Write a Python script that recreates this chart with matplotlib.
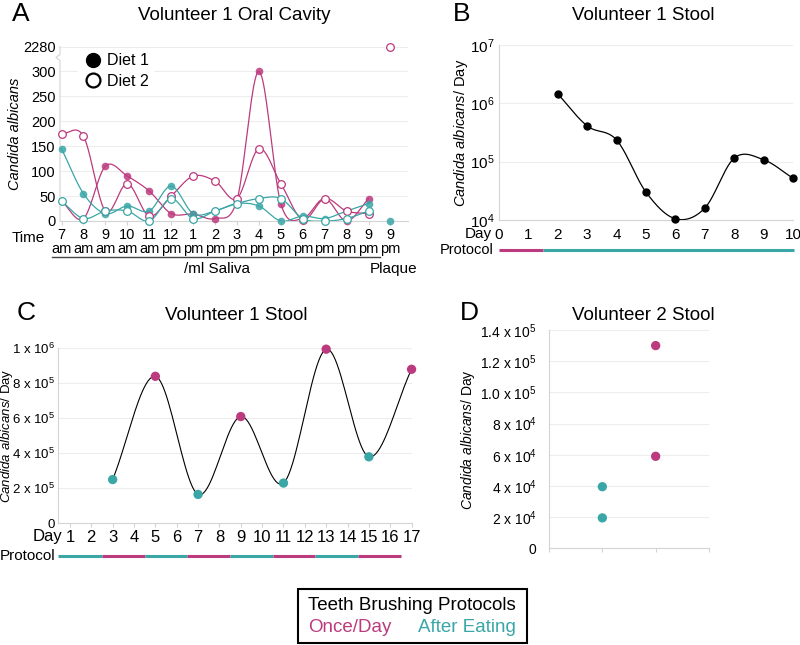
import numpy as np
import matplotlib.pyplot as plt
from matplotlib.lines import Line2D
from matplotlib.patches import Rectangle
import matplotlib.transforms as mtrans

plt.rcParams['font.family'] = ['Liberation Sans', 'DejaVu Sans']
plt.rcParams['mathtext.fontset'] = 'custom'
plt.rcParams['mathtext.rm'] = 'Liberation Sans'
plt.rcParams['mathtext.it'] = 'Liberation Sans:italic'
plt.rcParams['mathtext.bf'] = 'Liberation Sans:bold'

MAG = '#BC3A7E'
TEAL = '#3AA6A6'
GRID = '#EDEDED'
SPINE = '#D4D4D4'
nan = np.nan

# ---- panel A: oral cavity, per ml saliva (last point = plaque)
times = ['7\nam', '8\nam', '9\nam', '10\nam', '11\nam', '12\npm', '1\npm', '2\npm',
         '3\npm', '4\npm', '5\npm', '6\npm', '7\npm', '8\npm', '9\npm', '9\npm']
once_diet1 = [40, 5, 110, 90, 60, 15, 14, 5, 42, 300, 35, 5, 45, 0, 45, nan]
once_diet2 = [175, 170, 20, 75, 10, 50, 90, 80, 45, 145, 75, 3, 45, 20, 15, 2280]
after_diet1 = [145, 55, 15, 30, 20, 70, 15, 20, 35, 30, 0, 10, 5, 20, 35, 0]
after_diet2 = [40, 5, 20, 20, 0, 45, 5, 20, 35, 45, 45, 5, 0, 5, 20, nan]
a_yticks = [0, 50, 100, 150, 200, 250, 300, 350]
a_ylabels = ['0', '50', '100', '150', '200', '250', '300', '2280']

# ---- panel B: volunteer 1 stool, log scale
b_days = [2, 3, 4, 5, 6, 7, 8, 9, 10]
b_counts = [1.45e6, 4.1e5, 2.35e5, 3.0e4, 1.05e4, 1.6e4, 1.15e5, 1.08e5, 5.2e4]
b_protocol = [(0, 1.5, MAG), (1.5, 10.05, TEAL)]

# ---- panel C: volunteer 1 stool, linear
c_days = [3, 5, 7, 9, 11, 13, 15, 17]
c_counts = [2.5e5, 8.4e5, 1.65e5, 6.1e5, 2.3e5, 9.95e5, 3.8e5, 8.8e5]
c_colors = [TEAL, MAG, TEAL, MAG, TEAL, MAG, TEAL, MAG]
c_protocol = [(0.45, 2.5, TEAL), (2.5, 4.5, MAG), (4.5, 6.5, TEAL), (6.5, 8.5, MAG),
              (8.5, 10.5, TEAL), (10.5, 12.5, MAG), (12.5, 14.5, TEAL), (14.5, 16.5, MAG)]
c_yticks = [0, 2e5, 4e5, 6e5, 8e5, 1e6]
c_ylabels = ['0', r'2 x 10$^{5}$', r'4 x 10$^{5}$', r'6 x 10$^{5}$', r'8 x 10$^{5}$',
             r'1 x 10$^{6}$']

# ---- panel D: volunteer 2 stool
d_x = [1, 1, 2, 2]
d_counts = [3.95e4, 1.95e4, 1.3e5, 5.9e4]
d_colors = [TEAL, TEAL, MAG, MAG]
d_yticks = [0, 2e4, 4e4, 6e4, 8e4, 1e5, 1.2e5, 1.4e5]
d_ylabels = ['0', r'2 x 10$^{4}$', r'4 x 10$^{4}$', r'6 x 10$^{4}$', r'8 x 10$^{4}$',
             r'1.0 x 10$^{5}$', r'1.2 x 10$^{5}$', r'1.4 x 10$^{5}$']

W, H = 800, 645
fig = plt.figure(figsize=(8, 6.45), dpi=100)


def px_axes(l, t, r, b):
    return fig.add_axes([l / W, 1 - b / H, (r - l) / W, (b - t) / H])


def ftext(x, y, s, **kw):
    fig.text(x / W, 1 - y / H, s, **kw)


def smooth(x, y, n=24):
    # catmull-rom curve through the points, for drawing only
    p = np.column_stack([x, y]).astype(float)
    p = np.vstack([2 * p[0] - p[1], p, 2 * p[-1] - p[-2]])
    t = np.linspace(0, 1, n)[:, None]
    out = []
    for i in range(1, len(p) - 2):
        p0, p1, p2, p3 = p[i - 1], p[i], p[i + 1], p[i + 2]
        seg = 0.5 * (2 * p1 + (-p0 + p2) * t + (2 * p0 - 5 * p1 + 4 * p2 - p3) * t ** 2
                     + (-p0 + 3 * p1 - 3 * p2 + p3) * t ** 3)
        out.append(seg)
    out = np.vstack(out)
    return out[:, 0], out[:, 1]


def style(ax, xsize=11, ysize=10.5):
    for s in ['top', 'right']:
        ax.spines[s].set_visible(False)
    for s in ['left', 'bottom']:
        ax.spines[s].set_color(SPINE)
        ax.spines[s].set_linewidth(0.8)
    ax.grid(axis='y', color=GRID, lw=0.8)
    ax.set_axisbelow(True)
    ax.tick_params(axis='y', length=0, pad=3, labelsize=ysize)
    ax.tick_params(axis='x', length=3, color=SPINE, labelsize=xsize)


# ================= A
axA = px_axes(60, 46.5, 408, 221)
style(axA, 10.5, 10.5)
axA.spines['left'].set_visible(False)
xs = np.arange(len(times))


def disp(v):
    v = np.asarray(v, float)
    return np.where(v > 300, 350, v)


series = [(once_diet1, MAG, True), (once_diet2, MAG, False),
          (after_diet1, TEAL, True), (after_diet2, TEAL, False)]
for vals, col, filled in series:
    v = disp(vals)
    sx, sy = smooth(xs[:15], v[:15])
    axA.plot(sx, sy, color=col, lw=0.9, zorder=2, clip_on=False)
for vals, col, filled in series:
    v = disp(vals)
    if filled:
        axA.plot(xs, v, 'o', ms=5.5, color=col, alpha=0.85, zorder=3, clip_on=False, mec='none')
    else:
        axA.plot(xs, v, 'o', ms=5.5, mfc='white', mec=col, mew=0.9, zorder=4, clip_on=False)

axA.set_xlim(-0.07, 15.8)
axA.set_ylim(0, 350)
axA.set_yticks(a_yticks)
axA.set_yticklabels(a_ylabels)
axA.set_xticks(xs)
axA.set_xticklabels(times, linespacing=1.0)
axA.tick_params(axis='x', pad=2)
# broken left axis drawn by hand
bt = mtrans.blended_transform_factory(axA.transAxes, axA.transData)
axA.plot([0, 0, -0.012, 0, 0], [0, 322, 328, 334, 350], color=SPINE, lw=0.8,
         transform=bt, clip_on=False)
axA.set_ylabel('Candida albicans', style='italic', fontsize=10.5)
axA.yaxis.set_label_coords(-0.109, 0.5)
leg_handles = [Line2D([], [], marker='o', ls='', ms=10, color='black'),
               Line2D([], [], marker='o', ls='', ms=10, mfc='white', mec='black', mew=1.6)]
leg = axA.legend(leg_handles, ['Diet 1', 'Diet 2'], loc='upper left', bbox_to_anchor=(0.03, 1.035),
                 frameon=True, fontsize=11.5, handletextpad=0.3, borderpad=0.3,
                 labelspacing=0.35, handlelength=1.2, fancybox=False)
leg.get_frame().set_edgecolor('none')
leg.get_frame().set_facecolor('white')
leg.get_frame().set_alpha(1)

ftext(45, 238, 'Time', ha='right', va='center', fontsize=11)
fig.add_artist(Line2D([52 / W, 380 / W], [1 - 257 / H, 1 - 257 / H], color='#444444', lw=1))
ftext(217, 269, '/ml Saliva', ha='center', va='center', fontsize=11)
ftext(394, 269, 'Plaque', ha='center', va='center', fontsize=11)
ftext(234, 15, 'Volunteer 1 Oral Cavity', ha='center', va='center', fontsize=13.5)
ftext(21, 14, 'A', ha='center', va='center', fontsize=19)

# ================= B
axB = px_axes(499, 45, 793, 220)
style(axB, 11, 11)
sx, sy = smooth(b_days, np.log10(b_counts))
axB.plot(sx, 10 ** sy, color='black', lw=0.9, zorder=2)
axB.plot(b_days, b_counts, 'o', ms=5, color='black', zorder=3, clip_on=False)
axB.set_yscale('log')
axB.set_ylim(1e4, 1e7)
axB.set_yticks([1e4, 1e5, 1e6, 1e7])
axB.set_yticklabels([r'10$^{4}$', r'10$^{5}$', r'10$^{6}$', r'10$^{7}$'])
axB.minorticks_off()
axB.set_xlim(0, 10)
axB.set_xticks(range(11))
axB.tick_params(axis='x', length=0, pad=6)
axB.set_ylabel(r'$\it{Candida\ albicans}$/ Day', fontsize=10.5)
axB.yaxis.set_label_coords(-0.099, 0.5)
btB = mtrans.blended_transform_factory(axB.transData, axB.transAxes)
for x0, x1, col in b_protocol:
    axB.plot([x0, x1], [-0.171, -0.171], color=col, lw=2.2, transform=btB,
             clip_on=False, solid_capstyle='butt')
ftext(492, 234, 'Day', ha='right', va='center', fontsize=11)
ftext(494, 250, 'Protocol', ha='right', va='center', fontsize=10.5)
ftext(643, 15, 'Volunteer 1 Stool', ha='center', va='center', fontsize=13.5)
ftext(462, 14, 'B', ha='center', va='center', fontsize=19)

# ================= C
axC = px_axes(58, 348.3, 412, 523.3)
style(axC, 12, 9.5)
sx, sy = smooth(c_days, c_counts)
axC.plot(sx, sy, color='black', lw=0.8, zorder=2)
axC.scatter(c_days, c_counts, s=45, c=c_colors, zorder=3, clip_on=False, linewidths=0)
axC.set_ylim(0, 1e6)
axC.set_yticks(c_yticks)
axC.set_yticklabels(c_ylabels)
axC.set_xlim(0.44, 17.02)
axC.set_xticks(range(1, 18))
axC.tick_params(axis='x', pad=2)
axC.tick_params(axis='y', pad=2)
axC.set_ylabel(r'$\it{Candida\ albicans}$/ Day', fontsize=9.5)
axC.yaxis.set_label_coords(-0.121, 0.5)
btC = mtrans.blended_transform_factory(axC.transData, axC.transAxes)
for x0, x1, col in c_protocol:
    axC.plot([x0, x1], [-0.185, -0.185], color=col, lw=2.2, transform=btC,
             clip_on=False, solid_capstyle='butt')
ftext(62, 537, 'Day', ha='right', va='center', fontsize=12)
ftext(55, 556, 'Protocol', ha='right', va='center', fontsize=11)
ftext(236, 315, 'Volunteer 1 Stool', ha='center', va='center', fontsize=13.5)
ftext(26, 313, 'C', ha='center', va='center', fontsize=19)

# ================= D
axD = px_axes(549, 330, 709, 548.3)
style(axD, 11, 10)
axD.scatter(d_x, d_counts, s=45, c=d_colors, zorder=3, linewidths=0)
axD.set_ylim(0, 1.4e5)
axD.set_yticks(d_yticks)
axD.set_yticklabels(d_ylabels)
axD.set_xlim(0, 3)
axD.set_xticks([0, 1, 2, 3])
axD.set_xticklabels([])
axD.tick_params(axis='y', pad=9)
axD.set_ylabel(r'$\it{Candida\ albicans}$/ Day', fontsize=10)
axD.yaxis.set_label_coords(-0.45, 0.5)
ftext(643, 315, 'Volunteer 2 Stool', ha='center', va='center', fontsize=13.5)
ftext(469, 313, 'D', ha='center', va='center', fontsize=19)

# ================= protocol key
fig.add_artist(Rectangle((298 / W, 1 - 643 / H), 229 / W, 54 / H, transform=fig.transFigure,
                         fill=False, edgecolor='black', lw=1.5))
ftext(412, 605, 'Teeth Brushing Protocols', ha='center', va='center', fontsize=13.5)
ftext(350, 628, 'Once/Day', ha='center', va='center', fontsize=13.5, color=MAG)
ftext(467, 628, 'After Eating', ha='center', va='center', fontsize=13.5, color=TEAL)

fig.savefig('out.png', dpi=100)
